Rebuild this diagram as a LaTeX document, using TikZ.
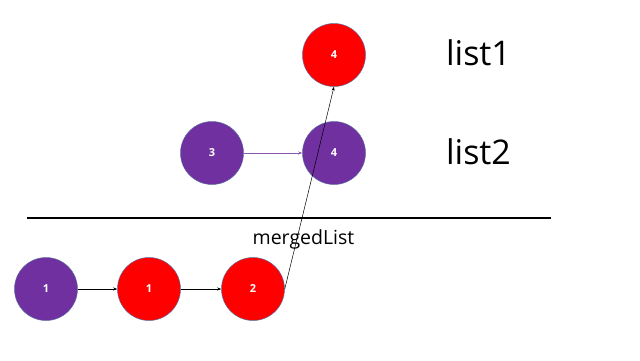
\documentclass[tikz,border=0pt]{standalone}
\usepackage{fontspec}
\setmainfont{Open Sans}
\usetikzlibrary{arrows.meta}
\definecolor{nodepurple}{HTML}{7030A0}
\definecolor{nodered}{HTML}{FF0000}
\definecolor{nodeborder}{HTML}{5B6FA0}
\definecolor{linkpurple}{HTML}{8A5AB0}
\begin{document}
\begin{tikzpicture}[x=1pt,y=-1pt,
  listnode/.style={circle,draw=nodeborder,line width=0.5pt,minimum size=63pt,inner sep=0pt,text=white,font=\bfseries\fontsize{11}{13}\selectfont},
  purplenode/.style={listnode,fill=nodepurple},
  rednode/.style={listnode,fill=nodered},
  link/.style={-{Stealth[length=4pt,width=3pt]},line width=0.5pt},
  biglabel/.style={font=\fontsize{34}{38}\selectfont,text=black},
  midlabel/.style={font=\fontsize{19.5}{22}\selectfont,text=black}]
\useasboundingbox (0,0) rectangle (640,360);
\node[rednode] (lone) at (334,55) {4};
\node[purplenode] (ltwoa) at (212,153) {3};
\node[purplenode] (ltwob) at (334,153) {4};
\node[purplenode] (ma) at (46,289) {1};
\node[rednode] (mb) at (149,289) {1};
\node[rednode] (mc) at (253,289) {2};
\node[biglabel] (lab1) at (478.5,53) {list1};
\node[biglabel] (lab2) at (478.5,152) {list2};
\node[midlabel] (labm) at (303.5,239) {mergedList};
\coordinate (sepl) at (27,217.5);
\coordinate (sepr) at (551,217.5);
\draw[line width=2pt] (sepl) -- (sepr);
\draw[link,draw=linkpurple] (ltwoa) -- (ltwob);
\draw[link] (ma) -- (mb);
\draw[link] (mb) -- (mc);
\draw[link] (mc.east) -- (lone.south);
\end{tikzpicture}
\end{document}
